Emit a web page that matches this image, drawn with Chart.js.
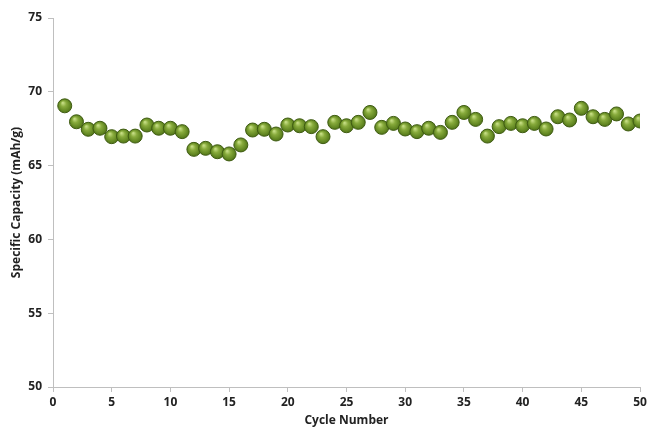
<!DOCTYPE html>
<html>
<head>
<meta charset="utf-8">
<script src="https://cdn.jsdelivr.net/npm/chart.js@4/dist/chart.umd.min.js"></script>
<style>
html,body{margin:0;padding:0;background:#fff;}
#wrap{width:650px;height:428px;position:relative;}
</style>
</head>
<body>
<div id="wrap"><canvas id="c" width="650" height="428"></canvas></div>
<script>
const cycles = [1,2,3,4,5,6,7,8,9,10,11,12,13,14,15,16,17,18,19,20,21,22,23,24,25,26,27,28,29,30,31,32,33,34,35,36,37,38,39,40,41,42,43,44,45,46,47,48,49,50];
const capacity = [69.05,67.97,67.46,67.53,66.96,67.0,67.0,67.75,67.53,67.53,67.3,66.1,66.17,65.94,65.79,66.4,67.41,67.46,67.14,67.75,67.7,67.64,66.96,67.93,67.7,67.93,68.6,67.59,67.86,67.48,67.3,67.53,67.25,67.93,68.6,68.13,67.0,67.64,67.86,67.7,67.86,67.48,68.31,68.09,68.88,68.31,68.13,68.5,67.82,68.02];
const xTitle = 'Cycle Number';
const yTitle = 'Specific Capacity (mAh/g)';

const pts = cycles.map((c,i)=>({x:c,y:capacity[i]}));

function sphere(ctx){
  const el = ctx.element;
  const chart = ctx.chart;
  if(!el || el.x===undefined || isNaN(el.x)) return '#6b8e23';
  const c = chart.ctx;
  const g = c.createRadialGradient(el.x-2, el.y-3, 0.5, el.x, el.y, 7.5);
  g.addColorStop(0,'#c4dc82');
  g.addColorStop(0.35,'#88ab3c');
  g.addColorStop(0.8,'#5f8420');
  g.addColorStop(1,'#4a6a14');
  return g;
}

const tickFont = {family:'"Open Sans", "Liberation Sans", sans-serif', size:12, weight:'bold'};

new Chart(document.getElementById('c'), {
  type:'scatter',
  data:{datasets:[{
    data:pts,
    pointRadius:7,
    pointHoverRadius:7,
    pointBorderWidth:1,
    pointBorderColor:'#3f5c12',
    pointBackgroundColor:sphere,
    showLine:false
  }]},
  options:{
    responsive:false,
    animation:false,
    devicePixelRatio:1,
    plugins:{legend:{display:false},tooltip:{enabled:false}},
    layout:{padding:{top:18,right:10,left:0,bottom:0}},
    scales:{
      x:{
        type:'linear', min:0, max:50,
        ticks:{stepSize:5, color:'#222', font:tickFont, padding:3, maxRotation:0},
        grid:{drawOnChartArea:false, drawTicks:true, tickLength:5, color:'#bfbfbf'},
        border:{color:'#bfbfbf'},
        title:{display:true, text:xTitle, color:'#222', font:tickFont, padding:{top:3,bottom:0}},
        afterFit:(s)=>{s.height=41;}
      },
      y:{
        type:'linear', min:50, max:75,
        ticks:{stepSize:5, color:'#222', font:tickFont, padding:6},
        grid:{drawOnChartArea:false, drawTicks:true, tickLength:5, color:'#bfbfbf'},
        border:{color:'#bfbfbf'},
        title:{display:true, text:yTitle, color:'#222', font:tickFont, padding:{top:9,bottom:0}},
        afterFit:(s)=>{s.width=53;}
      }
    }
  }
});
</script>
</body>
</html>
